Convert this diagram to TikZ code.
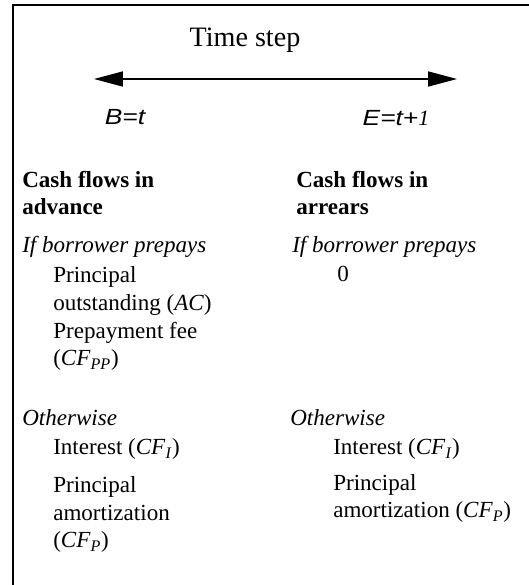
\documentclass[tikz,border=0pt]{standalone}
\usepackage{fontspec}
\setmainfont{Liberation Serif}
\newfontfamily\axisfont[FakeStretch=1.2]{Liberation Sans}
\usetikzlibrary{arrows.meta,positioning}

\newcommand{\bodysize}{\fontsize{16.4}{19.9}\selectfont}
\newcommand{\cfsub}[1]{(\textit{CF}\textsubscript{\textit{#1}})}

\begin{document}
\begin{tikzpicture}[
    every node/.style={inner sep=0pt},
    body/.style={anchor=base west, align=left, font=\bodysize},
    head/.style={body, font=\bodysize\bfseries},
    case/.style={body, font=\bodysize\itshape},
    timearrow/.style={line width=1pt,
        {Triangle[length=20.6pt,width=10.7pt]}-{Triangle[length=20.6pt,width=10.7pt]}}
]
    \useasboundingbox (0,0) rectangle (13.225,14.625);

    % Frame
    \draw[line width=1.4pt] (0.325,0) -- (0.325,14.5) -- (13.225,14.5);

    % Time step
    \node[anchor=base, font=\fontsize{20}{24}\selectfont] (title) at (6.125,13.45) {Time step};
    \coordinate (tb) at (2.35,12.65);
    \coordinate (te) at (11.425,12.65);
    \draw[timearrow] (tb) -- (te);
    \node[anchor=base, font=\axisfont\itshape\fontsize{15.6}{18}\selectfont] (bgn) at (3.125,11.5) {B=t};
    \node[anchor=base, font=\axisfont\itshape\fontsize{15.6}{18}\selectfont] (end) at (9.9,11.475) {E=t+{\rmfamily 1}};

    % Cash flows in advance (base = last line)
    \node[head] (advhead) at (0.55,9.25) {Cash flows in\\advance};
    \node[case] (advpre) at (0.55,8.3) {If borrower prepays};
    \node[body] (advpreitems) at (1.325,5.475) {Principal\\outstanding (\textit{AC})\\Prepayment fee\\\cfsub{PP}};
    \node[case] (advoth) at (0.55,3.975) {Otherwise};
    \node[body] (advint) at (1.325,3.25) {Interest \cfsub{I}};
    \node[body] (advamort) at (1.325,0.925) {Principal\\amortization\\\cfsub{P}};

    % Cash flows in arrears
    \node[head] (arrhead) at (7.4,9.25) {Cash flows in\\arrears};
    \node[case] (arrpre) at (7.3,8.3) {If borrower prepays};
    \node[body] (arrzero) at (8.425,7.575) {0};
    \node[case] (arroth) at (7.25,3.975) {Otherwise};
    \node[body] (arrint) at (8.325,3.25) {Interest \cfsub{I}};
    \node[body] (arramort) at (8.325,1.675) {Principal\\amortization \cfsub{P}};
\end{tikzpicture}
\end{document}
